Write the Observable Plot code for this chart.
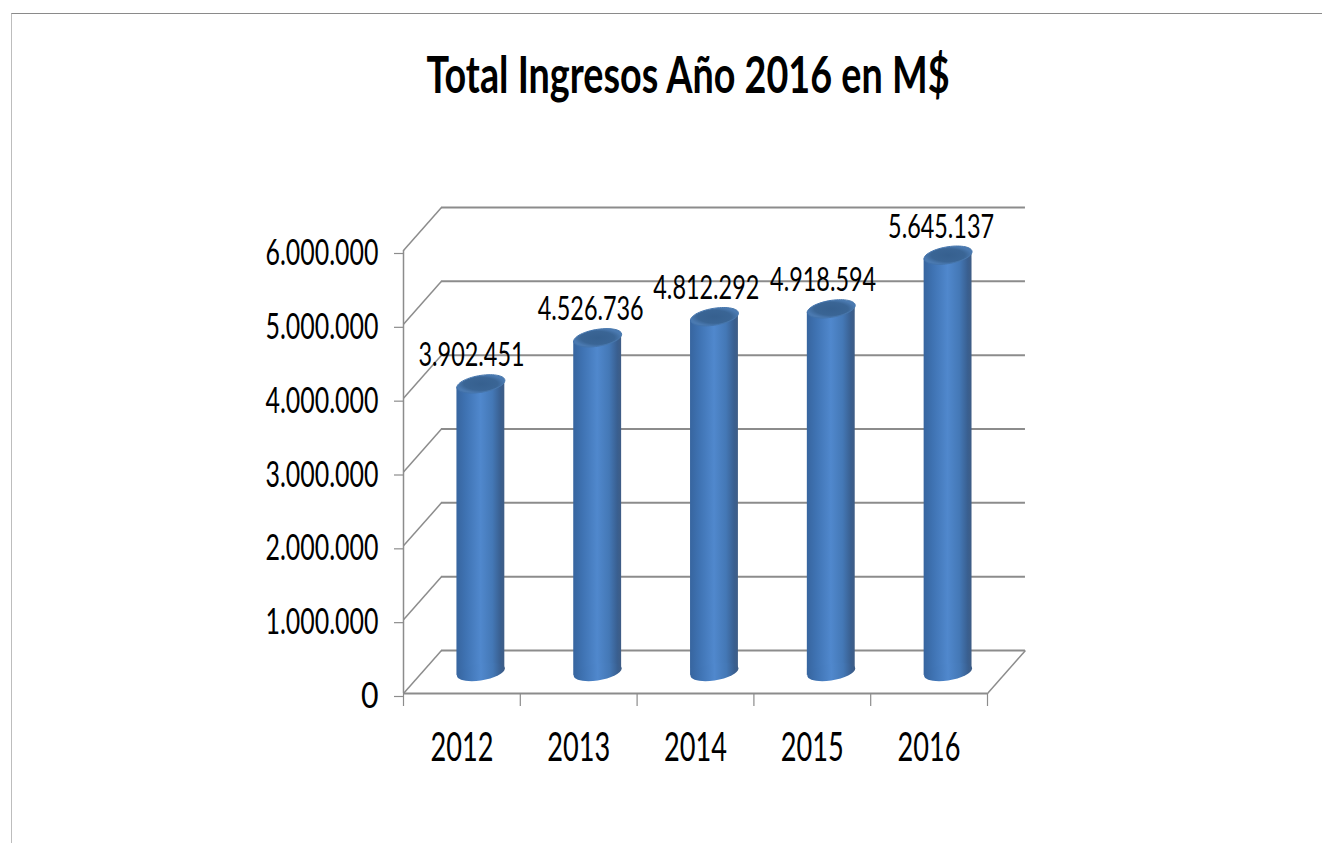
<!DOCTYPE html>
<html><head><meta charset="utf-8">
<script src="https://cdn.jsdelivr.net/npm/d3@7"></script>
<script src="https://cdn.jsdelivr.net/npm/@observablehq/plot@0.6"></script>
<style>
html,body{margin:0;padding:0;background:#fff;overflow:hidden;width:1322px;height:843px}
#frame{position:absolute;left:11px;top:13px;right:0;bottom:-5px;border-top:1.5px solid #8a8a8a;border-left:1.5px solid #bdbdbd}
#title{position:absolute;left:0;top:43px;width:1376px;text-align:center;font:700 52px Lato,"Liberation Sans",sans-serif;color:#000;line-height:60px;transform:scaleX(0.726);transform-origin:688px 0}
#chart{position:absolute;left:0;top:130px}
svg text{font-family:Lato,"Liberation Sans",sans-serif}
</style></head><body>
<div id="frame"></div>
<div id="title">Total Ingresos Año 2016 en M$</div>
<div id="chart"></div>
<script>
const chartTitle = "Total Ingresos Año 2016 en M$";
const years = ["2012","2013","2014","2015","2016"];
const ingresos = [3902451,4526736,4812292,4918594,5645137];
const yTicks = [0,1000000,2000000,3000000,4000000,5000000,6000000];

document.getElementById("title").textContent = chartTitle;
const rows = years.map((year,i)=>({year,i,value:ingresos[i]}));
const fmt = v => d3.format(",")(v).replace(/,/g,".");
const depthX = 0.325, depthY = 582000, halfW = 0.205, tilt = 47000;
const labelNudge = [-0.08,-0.06,-0.07,-0.07,-0.06];
const gridColor = "#8c8c8c";

function ellipseSymbol(a,b,k){
  const c = 0.5523;
  const P = (x,y)=>[x, y + k*x];
  return {draw(ctx){
    ctx.moveTo(...P(-a,0));
    ctx.bezierCurveTo(...P(-a,-c*b),...P(-c*a,-b),...P(0,-b));
    ctx.bezierCurveTo(...P(c*a,-b),...P(a,-c*b),...P(a,0));
    ctx.bezierCurveTo(...P(a,c*b),...P(c*a,b),...P(0,b));
    ctx.bezierCurveTo(...P(-c*a,b),...P(-a,c*b),...P(-a,0));
    ctx.closePath();
  }};
}
const sym = ellipseSymbol(24,8.5,-0.145);
const cx = d => d.i+0.5+depthX/2;
const edges = rows.flatMap(d=>[
  {year:d.year,x:cx(d)-halfW,y1:depthY/2-tilt,y2:d.value+depthY/2-tilt},
  {year:d.year,x:cx(d)+halfW,y1:depthY/2+tilt,y2:d.value+depthY/2+tilt}
]);

const chart = Plot.plot({
  width:1322, height:713,
  marginLeft:403, marginRight:335, marginTop:120, marginBottom:150,
  x:{type:"linear",domain:[0,5]},
  y:{type:"linear",domain:[0,6000000]},
  style:{background:"transparent",overflow:"visible"},
  marks:[
    Plot.ruleY(yTicks,{y:v=>v+depthY,x1:()=>depthX,x2:()=>5+depthX,stroke:gridColor,strokeWidth:2}),
    Plot.link(yTicks,{x1:()=>0,y1:v=>v,x2:()=>depthX,y2:v=>v+depthY,stroke:gridColor,strokeWidth:1.5}),
    Plot.link([0],{x1:()=>5,y1:()=>0,x2:()=>5+depthX,y2:()=>depthY,stroke:gridColor,strokeWidth:1.5}),
    Plot.ruleX([0],{y1:0,y2:6000000,stroke:gridColor,strokeWidth:1.5}),
    Plot.ruleY([0],{x1:()=>0,x2:()=>5,stroke:gridColor,strokeWidth:2}),
    Plot.axisY({ticks:yTicks,label:null,tickSize:9,tickPadding:16,tickFormat:fmt,fontSize:36,stroke:gridColor,strokeWidth:1.2,dy:3,fill:"#000"}),
    Plot.axisX({ticks:[0,1,2,3,4,5],label:null,tickSize:13,tickFormat:()=>"",stroke:gridColor,strokeWidth:1.2}),
    Plot.axisX({ticks:rows.map(d=>d.i+0.5),label:null,tickSize:0,tickPadding:39,tickFormat:v=>years[v-0.5],fontSize:40,fill:"#000"}),
    Plot.areaY(edges,{x:"x",y1:"y1",y2:"y2",z:"year",fill:"url(#cyl)"}),
    Plot.dot(rows,{x:cx,y:()=>depthY/2,symbol:sym,fill:"url(#cyl)",stroke:"none"}),
    Plot.dot(rows,{x:cx,y:d=>d.value+depthY/2,symbol:sym,fill:"url(#cap)",stroke:"url(#capEdge)",strokeWidth:1}),
    Plot.text(rows,{x:d=>cx(d)+labelNudge[d.i],y:d=>d.value+depthY/2,dy:-28,text:d=>fmt(d.value),fontSize:33,fill:"#000"})
  ]
});
const defs = d3.select(chart).insert("defs",":first-child");
const g = defs.append("linearGradient").attr("id","cyl").attr("x1",0).attr("x2",1).attr("y1",0).attr("y2",0);
[[0,"#37659f"],[0.2,"#3f73b3"],[0.5,"#5088cd"],[0.75,"#4478b6"],[0.92,"#395f90"],[1,"#3f5d85"]].forEach(([o,c])=>g.append("stop").attr("offset",o).attr("stop-color",c));
const c = defs.append("radialGradient").attr("id","cap");
[[0,"#36608f"],[0.7,"#3a6595"],[1,"#4a79b0"]].forEach(([o,col])=>c.append("stop").attr("offset",o).attr("stop-color",col));
const e = defs.append("linearGradient").attr("id","capEdge");
[[0,"#3f70aa"],[1,"#4a79ad"]].forEach(([o,col])=>e.append("stop").attr("offset",o).attr("stop-color",col));
document.getElementById("chart").append(chart);

// Condense the glyphs to the narrow face of the reference
d3.select(chart).selectAll("text").each(function(){
  const s = this.textContent.trim();
  if (!s) return;
  const fs = parseFloat(getComputedStyle(this).fontSize);
  const w = s.length===9 ? (fs>33 ? 113 : 106) : s.length===4 ? 63 : this.getComputedTextLength()*0.84;
  this.setAttribute("textLength", w);
  this.setAttribute("lengthAdjust","spacingAndGlyphs");
});
</script>
</body></html>
